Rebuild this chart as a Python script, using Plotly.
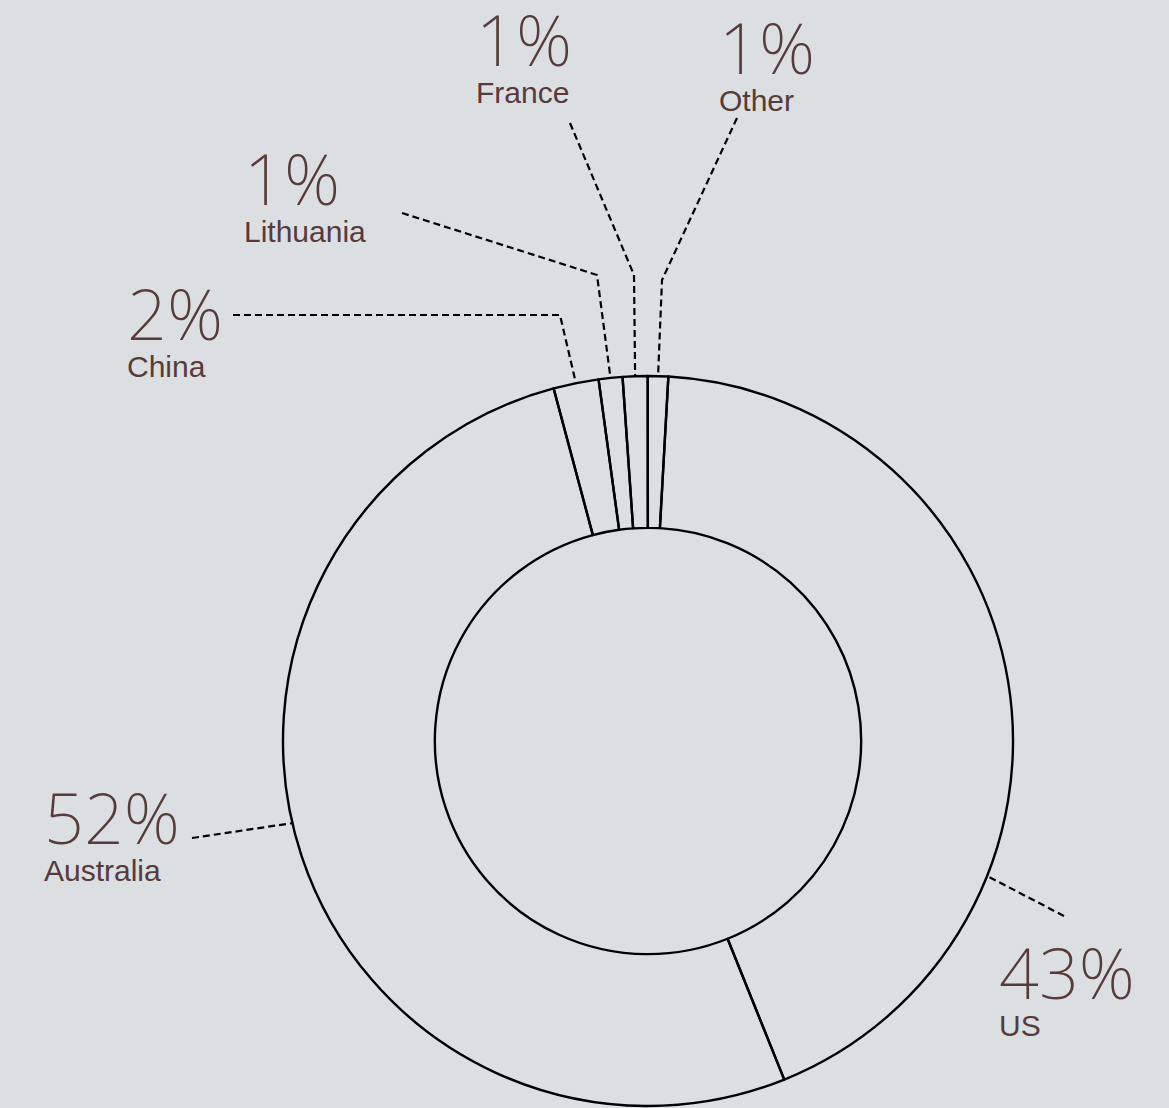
import math
import plotly.graph_objects as go

# ---- data ----
countries = ["US", "Australia", "China", "Lithuania", "France", "Other"]
shares = [43.0, 51.9, 2.0, 1.05, 1.1, 0.9]
pct_labels = ["43%", "52%", "2%", "1%", "1%", "1%"]

# ---- layout constants (pixels) ----
W, H = 1169, 1108
CX, CY, R = 648, 741, 365
HOLE = 0.584
ROT = 3.2
BG = "rgb(220,223,226)"
TXT = "#573a3a"


def px(x, y):
    return x / W, 1 - y / H


fig = go.Figure(
    go.Pie(
        labels=countries,
        values=shares,
        sort=False,
        direction="clockwise",
        rotation=ROT,
        hole=HOLE,
        textinfo="none",
        marker=dict(colors=["rgba(0,0,0,0)"] * len(countries),
                    line=dict(color="black", width=2.4)),
        domain=dict(x=[(CX - R) / W, (CX + R) / W],
                    y=[1 - (CY + R) / H, 1 - (CY - R) / H]),
        showlegend=False,
        hoverinfo="label+percent",
    )
)

total = sum(shares)
mids = {}
acc = ROT
for c, v in zip(countries, shares):
    span = 360 * v / total
    mids[c] = acc + span / 2
    acc += span


def ring(theta):
    t = math.radians(theta)
    return CX + R * math.sin(t), CY - R * math.cos(t)


# (label left x, name baseline y, leader waypoints, ring angle or None = slice middle)
placement = {
    "France": (477, 102, [(570, 123), (634, 275)], None),
    "Other": (720, 110, [(737, 118), (662, 280)], None),
    "Lithuania": (245, 241, [(402, 213), (597, 275)], None),
    "China": (128, 376, [(233, 315), (560, 315)], None),
    "Australia": (45, 880, [(192, 838)], 257),
    "US": (1000, 1035, [(1064, 916)], 111.7),
}

PCT_STYLE = "font-family:'Noto Sans';font-size:70px;font-weight:200"
NAME_STYLE = "font-size:30px"

shapes = []
annotations = []
for c, lab in zip(countries, pct_labels):
    lx, base, pts, ang = placement[c]
    end = ring(mids[c] if ang is None else ang)
    allpts = pts + [end]
    path = ""
    for i, (x, y) in enumerate(allpts):
        X, Y = px(x, y)
        path += ("M" if i == 0 else "L") + f"{X:.5f},{Y:.5f} "
    shapes.append(dict(type="path", xref="paper", yref="paper", path=path,
                       line=dict(color="black", width=2.2, dash="7px,4px")))
    X, Y = px(lx - 3, base + 9)
    txt = (f"<span style=\"{PCT_STYLE}\">{lab}</span><br>"
           f"<span style=\"{NAME_STYLE}\">{c}</span>")
    annotations.append(dict(text=txt, x=X, y=Y, xref="paper", yref="paper",
                            xanchor="left", yanchor="bottom", align="left",
                            showarrow=False,
                            font=dict(family="Liberation Sans", size=28.5, color=TXT)))

fig.update_layout(
    width=W, height=H,
    margin=dict(l=0, r=0, t=0, b=0),
    paper_bgcolor=BG, plot_bgcolor=BG,
    shapes=shapes, annotations=annotations,
)

fig.write_html("out.html", config={"displayModeBar": False},
               post_script="document.body.style.margin='0';")
